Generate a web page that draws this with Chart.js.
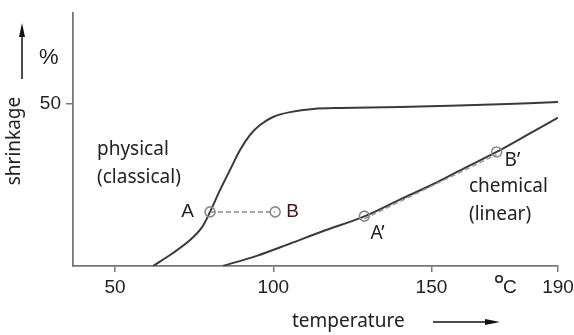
<!DOCTYPE html>
<html>
<head>
<meta charset="utf-8">
<script src="https://cdn.jsdelivr.net/npm/chart.js@4.4.0/dist/chart.umd.min.js"></script>
<style>
  html, body { margin: 0; padding: 0; background: #fff; }
  #wrap { width: 574px; height: 335px; }
</style>
</head>
<body>
<div id="wrap"><canvas id="shrink"></canvas></div>
<script>
// physical (classical) curve, temperature vs shrinkage %
var physTemp = [62, 68.3, 73.7, 77.5, 80, 83.2, 86.3, 89.5, 92.6, 95.8, 99.9, 105.3, 112.6, 121, 140, 171.6, 190];
var physVal  = [0, 4, 8, 12, 16.7, 23.5, 29.6, 35.8, 40.4, 43.5, 46, 47.5, 48.5, 48.8, 49.1, 49.9, 50.6];
// chemical (linear) curve
var chemTemp = [84, 95, 105, 115, 129, 140, 150, 160, 170.6, 180, 190];
var chemVal  = [0, 3.2, 6.8, 10.5, 15.4, 20.5, 25, 30, 35.2, 40.3, 45.8];
// marked points
var ptNames = ['A', 'B', "A'", "B'"];
var ptTemp  = [80, 100.6, 128.8, 170.6];
var ptVal   = [16.7, 16.7, 15.4, 35.2];
var xTicks = [50, 100, 150, 190];
var yTicks = [50];

function pts(xs, ys) {
  var out = [];
  for (var i = 0; i < xs.length; i++) out.push({x: xs[i], y: ys[i]});
  return out;
}

var labelFont = '"Noto Sans", sans-serif';
var arial = '"Liberation Sans", Arial, sans-serif';

var annot = {
  id: 'annot',
  afterDraw: function (chart) {
    var c = chart.ctx, xs = chart.scales.x, ys = chart.scales.y;
    c.save();
    c.fillStyle = '#222';
    c.textBaseline = 'middle';
    c.font = '19px ' + arial;
    // point letters
    c.textAlign = 'right';
    c.fillText('A', xs.getPixelForValue(ptTemp[0]) - 16, ys.getPixelForValue(ptVal[0]));
    c.textAlign = 'left';
    c.fillStyle = '#4a1518';
    c.fillText('B', xs.getPixelForValue(ptTemp[1]) + 11, ys.getPixelForValue(ptVal[1]));
    c.fillStyle = '#222';
    c.font = '19px ' + labelFont;
    c.fillText("A\u2019", xs.getPixelForValue(ptTemp[2]) + 6, ys.getPixelForValue(ptVal[2]) + 17);
    c.fillText("B\u2019", xs.getPixelForValue(ptTemp[3]) + 8, ys.getPixelForValue(ptVal[3]) + 9);
    // curve names
    c.fillText('physical', 97, 150);
    c.fillText('(classical)', 97, 178);
    c.fillText('chemical', 469, 187);
    c.fillText('(linear)', 469, 215);
    c.fillText('temperature', 292, 322);
    // shrinkage rotated
    c.save();
    c.translate(15, 141);
    c.rotate(-Math.PI / 2);
    c.textAlign = 'center';
    c.fillText('shrinkage', 0, 0);
    c.restore();
    c.font = '22px ' + arial;
    c.fillText('%', 39, 58);
    // degree C
    c.font = '19px ' + arial;
    c.fillText('C', 503, 288);
    c.lineWidth = 1.6;
    c.strokeStyle = '#222';
    c.beginPath();
    c.arc(499, 279, 3.2, 0, Math.PI * 2);
    c.stroke();
    // arrows
    c.strokeStyle = '#111';
    c.fillStyle = '#111';
    c.lineWidth = 1.5;
    c.beginPath(); c.moveTo(22, 79); c.lineTo(22, 32); c.stroke();
    c.beginPath(); c.moveTo(22, 23); c.lineTo(19, 37); c.lineTo(25, 37); c.closePath(); c.fill();
    c.beginPath(); c.moveTo(433, 322); c.lineTo(488, 322); c.stroke();
    c.beginPath(); c.moveTo(500, 322); c.lineTo(485, 319); c.lineTo(485, 325); c.closePath(); c.fill();
    c.restore();
  }
};

new Chart(document.getElementById('shrink'), {
  type: 'scatter',
  data: {
    datasets: [
      {
        data: pts(physTemp, physVal), showLine: true, borderColor: '#3a3a3a', borderWidth: 2,
        pointRadius: 0, tension: 0.35, order: 3
      },
      {
        data: pts(chemTemp, chemVal), showLine: true, borderColor: '#3a3a3a', borderWidth: 2,
        pointRadius: 0, cubicInterpolationMode: 'monotone', order: 3
      },
      {
        data: pts(ptTemp.slice(0, 2), ptVal.slice(0, 2)), showLine: true, borderColor: '#888',
        borderWidth: 1.5, borderDash: [5, 3], pointRadius: 0, order: 2
      },
      {
        data: [{x: ptTemp[2], y: ptVal[2] - 0.8}, {x: ptTemp[3], y: ptVal[3] - 0.8}], showLine: true,
        borderColor: '#999', borderWidth: 1.5, borderDash: [5, 3], pointRadius: 0, order: 2
      },
      {
        data: pts(ptTemp, ptVal), showLine: false, pointRadius: 5, pointBorderWidth: 1.6,
        pointBorderColor: '#8a8a8a', pointBackgroundColor: 'rgba(255,255,255,0)', order: 1
      }
    ]
  },
  options: {
    responsive: true,
    maintainAspectRatio: false,
    animation: false,
    layout: { autoPadding: false, padding: { top: 13, right: 16, left: 0, bottom: 0 } },
    plugins: { legend: { display: false }, tooltip: { enabled: false } },
    scales: {
      x: {
        type: 'linear', min: 36.7, max: 190,
        afterBuildTicks: function (s) { s.ticks = xTicks.map(function (v) { return {value: v}; }); },
        afterFit: function (s) { s.height = 69; s.paddingLeft = 0; s.paddingRight = 0; },
        grid: { drawOnChartArea: false, tickLength: 6, color: '#777', lineWidth: 1.5 },
        border: { color: '#777', width: 1.8 },
        ticks: { color: '#222', padding: 4, maxRotation: 0, autoSkip: false,
                 font: { size: 19, family: arial } }
      },
      y: {
        type: 'linear', min: 0, max: 78.1,
        afterBuildTicks: function (s) { s.ticks = yTicks.map(function (v) { return {value: v}; }); },
        afterFit: function (s) { s.width = 73; s.paddingTop = 0; s.paddingBottom = 0; },
        grid: { drawOnChartArea: false, tickLength: 7, color: '#777', lineWidth: 1.5 },
        border: { color: '#777', width: 1.8 },
        ticks: { color: '#222', padding: 5,
                 font: { size: 19, family: arial } }
      }
    }
  },
  plugins: [annot]
});
</script>
</body>
</html>
